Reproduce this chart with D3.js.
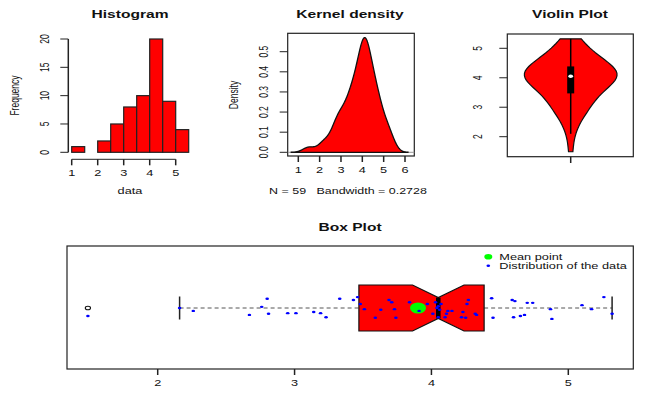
<!DOCTYPE html>
<html>
<head>
<meta charset="utf-8">
<script src="https://cdn.jsdelivr.net/npm/d3@7"></script>
<style>
  body { margin: 0; background: #fff; }
  svg { font-family: "Liberation Sans", Arial, Helvetica, sans-serif; }
  text { white-space: pre; }
</style>
</head>
<body>
<script>
var values = [1.49, 2.16, 2.26, 2.67, 2.76, 2.80, 2.81, 2.95, 3.01, 3.14,
  3.19, 3.23, 3.33, 3.43, 3.46, 3.48, 3.51, 3.59, 3.63, 3.69,
  3.71, 3.73, 3.74, 3.84, 3.91, 3.97, 4.01, 4.03, 4.04, 4.05,
  4.05, 4.06, 4.07, 4.10, 4.11, 4.12, 4.15, 4.22, 4.23, 4.25,
  4.26, 4.27, 4.32, 4.33, 4.44, 4.45, 4.59, 4.60, 4.61, 4.65,
  4.68, 4.70, 4.74, 4.87, 4.88, 5.10, 5.17, 5.26, 5.32];
// vertical jitter of each point in the box plot (box units)
var jitter = [-0.14, 0.00, -0.05, -0.12, 0.02, 0.16, -0.10, -0.09, -0.09, -0.07,
  -0.09, -0.16, 0.16, 0.14, 0.19, 0.07, -0.02, -0.17, -0.03, 0.14,
  0.10, -0.02, -0.17, 0.10, -0.05, 0.07, -0.10, 0.10, 0.00, 0.03,
  -0.16, -0.03, 0.07, -0.16, -0.10, -0.05, -0.05, -0.16, -0.07, -0.17,
  0.07, 0.14, -0.10, -0.12, 0.17, -0.17, 0.14, -0.16, 0.12, -0.14,
  -0.12, 0.09, 0.09, -0.02, -0.19, 0.05, -0.02, 0.19, -0.10];

var histBreaks = [1, 1.5, 2, 2.5, 3, 3.5, 4, 4.5, 5, 5.5];
var histXTicks = [1, 2, 3, 4, 5];
var histYTicks = [0, 5, 10, 15, 20];
var densXTicks = [1, 2, 3, 4, 5, 6];
var densYTicks = [0, 0.1, 0.2, 0.3, 0.4, 0.5];
var violinYTicks = [2, 3, 4, 5];
var boxXTicks = [2, 3, 4, 5];
var bandwidth = 0.2728;
var legendLabels = ["Mean point", "Distribution of the data"];

var svg = d3.select("body").append("svg")
    .attr("width", 645)
    .attr("height", 399);

svg.append("rect").attr("width", 645).attr("height", 399).attr("fill", "#fff");

// the picture is stretched 1.5x horizontally, so text is too
function txt(x, y, s, o) {
  o = o || {};
  return svg.append("text")
    .attr("transform", "translate(" + x + "," + y + ") scale(1.5,1)" + (o.rot ? " rotate(-90)" : ""))
    .attr("text-anchor", o.anchor || "middle")
    .attr("font-size", o.size || 8.5)
    .attr("font-weight", o.bold ? "bold" : null)
    .attr("fill", "#111")
    .attr("xml:space", "preserve")
    .text(s);
}

function line(x1, y1, x2, y2, w, col) {
  return svg.append("line")
    .attr("x1", x1).attr("y1", y1).attr("x2", x2).attr("y2", y2)
    .attr("stroke", col || "#222").attr("stroke-width", w || 1);
}

function xAxis(scale, ticks, y, fmt) {
  ticks.forEach(function(t) {
    line(scale(t), y, scale(t), y + 6, 1.5);
    txt(scale(t), y + 16.5, fmt ? fmt(t) : t);
  });
}

function yAxis(scale, ticks, x, labX, fmt) {
  ticks.forEach(function(t) {
    line(x - 8, scale(t), x, scale(t), 1);
    txt(labX, scale(t), fmt ? fmt(t) : t, {rot: true});
  });
}

function kde(data, bw, xs) {
  return xs.map(function(x) {
    var s = d3.sum(data, function(v) { var u = (x - v) / bw; return Math.exp(-0.5 * u * u); });
    return [x, s / (data.length * bw * Math.sqrt(2 * Math.PI))];
  });
}

// ---------- Histogram ----------
var hx = d3.scaleLinear().domain([1, 5]).range([71.7, 175.7]);
var hy = d3.scaleLinear().domain([0, 20]).range([152.3, 39]);
var bins = d3.bin().domain([1, 5.5]).thresholds(histBreaks.slice(1, -1))(values);

svg.append("g").selectAll("rect")
    .data(bins)
  .enter().append("rect")
    .attr("x", function(d) { return hx(d.x0); })
    .attr("y", function(d) { return hy(d.length); })
    .attr("width", function(d) { return hx(d.x1) - hx(d.x0); })
    .attr("height", function(d) { return hy(0) - hy(d.length); })
    .attr("fill", "#ff0000")
    .attr("stroke", "#222")
    .attr("stroke-width", 1.2);

line(hx(1), 159.3, hx(5), 159.3);
xAxis(hx, histXTicks, 159.3);
line(68.3, hy(0), 68.3, hy(20), 1.5);
yAxis(hy, histYTicks, 68.3, 49.3);
txt(130, 18, "Histogram", {bold: true, size: 10.4});
txt(130, 194, "data");
txt(18.5, 95.5, "Frequency", {rot: true});

// ---------- Kernel density ----------
var dx = d3.scaleLinear().domain([1, 6]).range([298.3, 405]);
var dy = d3.scaleLinear().domain([0, 0.5]).range([152.3, 51.7]);
var lo = d3.min(values) - 3 * bandwidth, hi = d3.max(values) + 3 * bandwidth;
var dens = kde(values, bandwidth, d3.range(512).map(function(i) { return lo + (hi - lo) * i / 511; }));

svg.append("rect").attr("x", 287.7).attr("y", 33.3).attr("width", 126.6).attr("height", 122.7)
    .attr("fill", "none").attr("stroke", "#222").attr("stroke-width", 1.2);
line(287.7, dy(0), 414.3, dy(0), 1, "#999");
svg.append("path")
    .datum(dens)
    .attr("d", d3.area().x(function(d) { return dx(d[0]); }).y0(dy(0)).y1(function(d) { return dy(d[1]); }))
    .attr("fill", "#ff0000")
    .attr("stroke", "#111")
    .attr("stroke-width", 1.3);
xAxis(dx, densXTicks, 156);
yAxis(dy, densYTicks, 287.7, 267.8, d3.format(".1f"));
txt(350, 18, "Kernel density", {bold: true, size: 10.4});
txt(348, 194, "N = 59   Bandwidth = " + bandwidth, {size: 8.3});
txt(238, 95, "Density", {rot: true});

// ---------- Violin ----------
var vy = d3.scaleLinear().domain([2, 5]).range([136.7, 48.3]);
var vcx = 570.7;
var vmin = d3.min(values), vmax = d3.max(values);
var vh = d3.deviation(values) * Math.pow(4 / (3 * values.length), 0.2);
var vd = kde(values, vh, d3.range(50).map(function(i) { return vmin + (vmax - vmin) * i / 49; }));
var vw = d3.scaleLinear().domain([0, d3.max(vd, function(d) { return d[1]; })]).range([0, 46.3]);
var q1 = d3.quantile(values, 0.25), q3 = d3.quantile(values, 0.75), med = d3.median(values);
var vlo = Math.max(vmin, q1 - 1.5 * (q3 - q1)), vhi = Math.min(vmax, q3 + 1.5 * (q3 - q1));

svg.append("rect").attr("x", 507.3).attr("y", 34).attr("width", 126).attr("height", 122.7)
    .attr("fill", "none").attr("stroke", "#222").attr("stroke-width", 1.2);
var vpts = vd.map(function(d) { return [vcx - vw(d[1]), vy(d[0])]; })
    .concat(vd.slice().reverse().map(function(d) { return [vcx + vw(d[1]), vy(d[0])]; }));
svg.append("polygon")
    .attr("points", vpts.map(function(p) { return p.join(","); }).join(" "))
    .attr("fill", "#ff0000")
    .attr("stroke", "#111")
    .attr("stroke-width", 1.2);
line(vcx, vy(vlo), vcx, vy(vhi), 1.5, "#000");
svg.append("rect").attr("x", vcx - 3.5).attr("y", vy(q3)).attr("width", 7).attr("height", vy(q1) - vy(q3)).attr("fill", "#000");
svg.append("ellipse").attr("cx", vcx).attr("cy", vy(med)).attr("rx", 2.4).attr("ry", 1.7).attr("fill", "#fff");
line(vcx, 156.7, vcx, 163, 1.5);
yAxis(vy, violinYTicks, 507.3, 481.7);
txt(570, 18, "Violin Plot", {bold: true, size: 10.4});

// ---------- Box plot ----------
var bx = d3.scaleLinear().domain([2, 5]).range([157.7, 568.3]);
var by = d3.scaleLinear().domain([0, 2]).range([365.5, 250.5]);
var n = values.length;
var n4 = Math.floor((n + 3) / 2) / 2;
var fn = [1, n4, (n + 1) / 2, n + 1 - n4, n].map(function(d) {
  return 0.5 * (values[Math.floor(d) - 1] + values[Math.ceil(d) - 1]);
});
var iqr = fn[3] - fn[1];
var wlo = d3.min(values.filter(function(v) { return v >= fn[1] - 1.5 * iqr; }));
var whi = d3.max(values.filter(function(v) { return v <= fn[3] + 1.5 * iqr; }));
var outl = values.filter(function(v) { return v < wlo || v > whi; });
var nlo = fn[2] - 1.58 * iqr / Math.sqrt(n), nhi = fn[2] + 1.58 * iqr / Math.sqrt(n);
var mean = d3.mean(values);

svg.append("rect").attr("x", 67).attr("y", 246).attr("width", 566.3).attr("height", 123)
    .attr("fill", "none").attr("stroke", "#222").attr("stroke-width", 1.2);

line(bx(wlo), by(1), bx(fn[1]), by(1), 1, "#555").attr("stroke-dasharray", "4,3");
line(bx(fn[3]), by(1), bx(whi), by(1), 1, "#555").attr("stroke-dasharray", "4,3");
line(bx(wlo), by(1.2), bx(wlo), by(0.8), 1.5);
line(bx(whi), by(1.2), bx(whi), by(0.8), 1.5);

var bw2 = 0.4, nw = 0.18;
var notch = [[fn[1], 1 + bw2], [nlo, 1 + bw2], [fn[2], 1 + nw], [nhi, 1 + bw2], [fn[3], 1 + bw2],
  [fn[3], 1 - bw2], [nhi, 1 - bw2], [fn[2], 1 - nw], [nlo, 1 - bw2], [fn[1], 1 - bw2]];
svg.append("polygon")
    .attr("points", notch.map(function(p) { return [bx(p[0]), by(p[1])].join(","); }).join(" "))
    .attr("fill", "#ff0000")
    .attr("stroke", "#111")
    .attr("stroke-width", 1.2);
line(bx(fn[2]), by(1 + nw), bx(fn[2]), by(1 - nw), 4.5, "#000");

svg.append("g").selectAll("ellipse")
    .data(outl)
  .enter().append("ellipse")
    .attr("cx", function(d) { return bx(d); })
    .attr("cy", by(1))
    .attr("rx", 2.6).attr("ry", 1.8)
    .attr("fill", "none").attr("stroke", "#111").attr("stroke-width", 1.1);

svg.append("ellipse").attr("cx", bx(mean)).attr("cy", by(1)).attr("rx", 8).attr("ry", 5.5).attr("fill", "#00ff00");

svg.append("g").selectAll("ellipse")
    .data(values)
  .enter().append("ellipse")
    .attr("cx", function(d) { return bx(d); })
    .attr("cy", function(d, i) { return by(1 + jitter[i]); })
    .attr("rx", 1.8).attr("ry", 1.2)
    .attr("fill", "#0000ff");

xAxis(bx, boxXTicks, 369);
txt(350, 230.7, "Box Plot", {bold: true, size: 10.4});

// legend
svg.append("ellipse").attr("cx", 488.3).attr("cy", 256.8).attr("rx", 4).attr("ry", 2.8).attr("fill", "#00ff00");
svg.append("ellipse").attr("cx", 488.3).attr("cy", 265.8).attr("rx", 1.8).attr("ry", 1.2).attr("fill", "#0000ff");
txt(499.3, 260, legendLabels[0], {anchor: "start"});
txt(499.3, 269, legendLabels[1], {anchor: "start"});
</script>
</body>
</html>
